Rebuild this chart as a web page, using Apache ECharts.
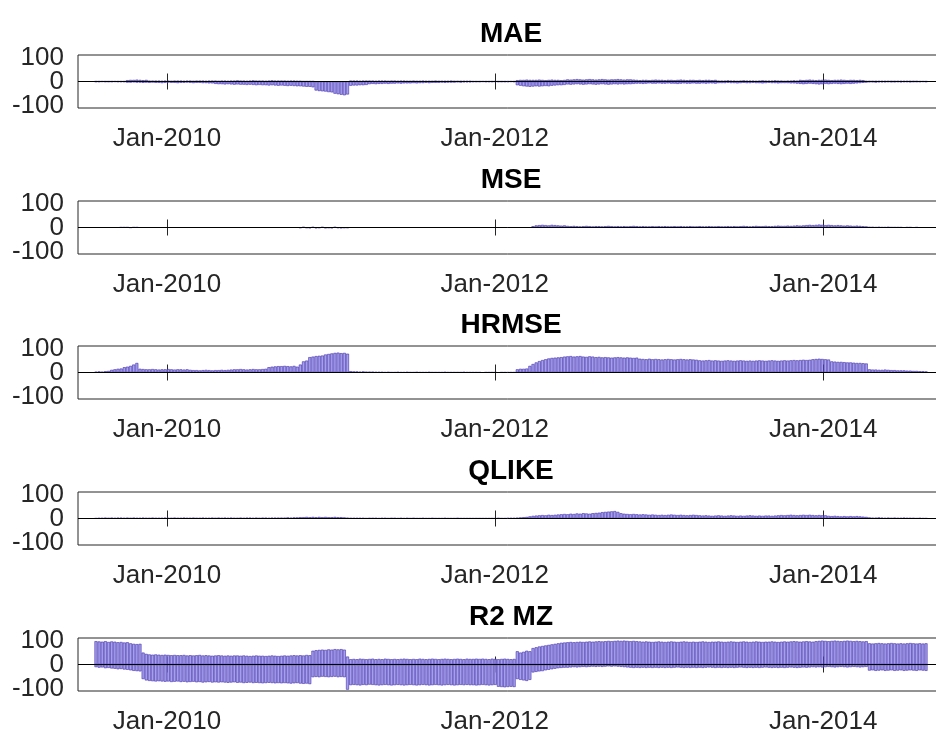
<!DOCTYPE html>
<html>
<head>
<meta charset="utf-8">
<script src="https://cdn.jsdelivr.net/npm/echarts@6/dist/echarts.min.js"></script>
<style>
html,body{margin:0;padding:0;background:#fff;}
#chart{width:936px;height:731px;}
</style>
</head>
<body>
<div id="chart"></div>
<script>
// weekly values, first week 2009-07-27
var weekStart = Date.UTC(2009, 6, 27);
var tickDates = [Date.UTC(2010, 0, 1), Date.UTC(2012, 0, 1), Date.UTC(2014, 0, 1)];
var titles = ['MAE', 'MSE', 'HRMSE', 'QLIKE', 'R2 MZ'];
var yEdgeTicks = [-100, 100];
var yMidTicks = [0];

var maeUp = [
1,1,1,1,1,1,1,1,1,1,5,6,6,7,6,5,6,3,3,3,
3,2,3,3,2,3,3,3,2,3,3,2,3,3,3,2,3,3,3,2,
3,3,2,3,3,4,3,3,2,3,4,3,3,3,2,3,4,3,3,3,
3,2,3,3,2,2,1,1,1,1,0,0,0,0,0,0,0,0,0,0,
0,3,3,3,2,3,3,3,3,2,3,3,3,2,3,3,2,3,3,2,
2,3,2,2,3,2,2,2,3,2,2,2,2,3,2,2,2,2,2,2,
1,1,1,1,1,1,1,1,1,1,1,1,1,1,5,6,6,7,6,6,
6,7,6,5,6,7,6,6,5,6,8,7,8,9,8,7,8,9,8,7,
8,9,8,7,8,8,9,8,7,8,8,7,6,5,6,6,5,6,7,6,
6,5,6,6,5,6,7,6,5,6,6,5,6,5,6,6,5,6,3,3,
3,4,3,3,2,3,4,3,3,3,2,3,4,3,3,3,4,3,3,2,
3,3,4,3,6,5,6,7,6,5,6,6,7,6,5,6,6,7,6,5,
6,6,5,6,5,2,2,2,2,2,2,2,2,2,2,2,2,2,2,2,
2,2,1,1,1
];
var maeDown = [
-2,-2,-1,-2,-2,-2,-1,-2,-2,-2,-4,-4,-3,-4,-4,-5,-4,-5,-4,-5,
-5,-6,-5,-4,-5,-5,-6,-5,-5,-4,-5,-6,-5,-5,-6,-6,-7,-7,-9,-10,
-10,-11,-10,-11,-12,-11,-12,-12,-13,-12,-13,-14,-13,-14,-14,-15,-14,-15,-16,-15,
-16,-17,-16,-17,-18,-18,-19,-20,-20,-22,-34,-36,-37,-38,-40,-41,-46,-48,-50,-52,
-49,-16,-15,-15,-14,-14,-13,-10,-9,-10,-9,-9,-8,-9,-8,-8,-7,-8,-7,-7,
-7,-6,-7,-6,-6,-5,-6,-5,-5,-5,-4,-5,-4,-4,-4,-3,-4,-3,-3,-3,
-2,-2,-2,-1,-2,-2,-2,-1,-2,-2,-2,-2,-1,-2,-14,-16,-18,-19,-20,-19,
-18,-19,-18,-17,-18,-16,-15,-14,-14,-13,-11,-12,-11,-10,-11,-12,-11,-10,-11,-12,
-11,-10,-11,-12,-11,-10,-11,-10,-11,-10,-10,-9,-8,-8,-9,-8,-7,-8,-8,-7,
-8,-8,-7,-8,-8,-9,-8,-7,-8,-8,-7,-8,-8,-7,-8,-7,-7,-8,-6,-6,
-6,-5,-6,-6,-7,-6,-5,-6,-6,-5,-6,-6,-7,-6,-5,-6,-6,-7,-6,-6,
-6,-7,-7,-8,-9,-10,-9,-8,-9,-10,-11,-10,-9,-10,-9,-8,-9,-10,-9,-8,
-9,-8,-7,-6,-5,-4,-3,-3,-4,-3,-3,-3,-2,-3,-3,-2,-3,-2,-2,-3,
-2,-2,-2,-1,-2
];
var mse = [
0,0,0,0,0,0,0,0,1,1,1,-1,1,1,0,0,0,0,0,0,
0,0,0,0,0,0,0,0,0,0,0,0,0,0,0,0,0,0,0,0,
0,0,0,0,0,0,0,0,0,0,0,0,0,0,0,0,0,0,0,0,
0,0,0,0,0,-2,2,-2,-3,2,-3,-2,2,-3,-2,-3,2,-2,-3,-2,
-2,0,0,0,0,0,0,0,0,0,0,0,0,0,0,0,0,0,0,0,
0,0,0,0,0,0,0,0,0,0,0,0,0,0,0,0,0,0,0,0,
0,0,0,0,0,0,0,0,0,0,0,0,0,0,0,0,0,0,0,5,
8,9,10,9,8,10,9,8,7,8,6,5,6,5,4,5,6,5,4,5,
5,4,5,6,5,4,5,4,5,4,5,6,5,4,5,4,4,5,4,5,
4,5,4,4,5,4,5,4,4,5,4,4,5,4,4,5,4,4,5,4,
4,5,4,5,4,5,6,5,4,5,6,5,5,6,5,5,6,7,6,6,
7,6,7,8,7,8,9,10,9,10,11,10,9,10,9,8,9,8,7,8,
7,6,7,6,5,4,2,2,1,2,1,1,2,1,1,1,1,0,1,1,
0,1,0,0,0
];
var hrmse = [
3,4,3,5,6,10,12,14,15,20,22,25,30,36,14,13,12,12,13,12,
11,12,12,13,12,11,12,12,11,12,10,9,9,8,9,10,9,8,9,9,
10,9,10,11,12,12,13,12,11,12,13,12,12,13,14,20,22,23,24,24,
25,24,23,25,22,30,42,45,58,60,62,63,64,68,70,72,74,75,73,74,
71,5,4,4,3,4,3,3,3,2,2,2,1,2,1,1,2,1,1,2,
1,1,2,1,1,1,2,1,1,1,1,2,1,1,1,1,1,2,1,1,
1,1,1,0,1,1,1,1,0,1,1,1,1,1,12,14,14,15,25,32,
38,43,47,50,53,55,56,57,58,60,61,62,60,61,62,60,59,61,60,58,
59,57,58,57,56,57,58,57,56,57,56,55,56,52,51,50,52,50,51,50,
49,50,51,50,49,50,51,50,49,50,49,48,46,45,46,47,45,46,45,44,
45,46,45,44,45,46,45,44,45,44,45,46,45,44,45,46,45,44,45,46,
45,46,47,46,47,48,47,48,50,51,52,51,50,49,42,41,40,40,39,38,
38,37,36,36,35,34,12,11,11,10,10,11,10,9,9,8,8,8,7,7,
6,6,5,5,4
];
var qlike = [
1,2,2,3,2,3,2,3,3,2,3,2,3,2,2,3,2,2,3,2,
2,2,3,2,2,3,2,2,3,2,2,3,2,2,3,2,2,3,2,3,
2,3,2,3,2,2,3,2,3,3,2,3,2,3,3,2,3,3,3,3,
3,4,3,4,4,5,5,6,5,6,5,6,5,6,5,5,6,5,5,4,
3,2,2,2,2,2,1,2,2,2,1,2,2,1,2,2,1,2,1,2,
1,2,1,1,2,1,1,2,1,1,1,2,1,1,1,2,1,1,1,1,
1,1,1,1,1,1,1,1,2,1,1,2,2,2,3,4,5,6,8,10,
11,12,13,12,14,13,14,15,16,17,16,18,17,19,18,20,19,18,20,21,
22,24,25,26,27,28,25,20,18,17,16,17,16,15,16,15,14,15,14,13,
14,13,14,15,14,13,14,13,12,13,14,13,12,11,12,11,10,11,12,11,
10,11,12,11,10,11,10,11,12,11,10,11,10,11,11,10,11,12,13,12,
13,14,13,12,13,14,13,14,13,12,13,12,12,10,9,10,9,8,9,8,
9,8,9,8,7,6,4,3,3,4,3,2,3,2,3,2,2,3,2,2,
2,1,2,1,1
];
var r2Upper = [
88,87,86,88,85,87,86,84,85,83,84,80,78,77,78,45,40,38,37,38,
37,36,37,36,35,36,35,35,36,34,35,34,35,36,34,35,34,33,34,35,
34,33,34,33,34,34,33,34,33,32,33,34,33,33,32,33,34,33,32,33,
34,33,34,35,34,35,34,36,35,52,54,55,56,55,57,56,58,57,58,56,
30,20,21,20,22,21,20,21,22,20,21,20,22,21,20,21,20,21,22,21,
20,21,20,22,21,20,21,22,21,20,21,22,21,20,21,22,21,20,22,21,
21,22,21,22,21,20,22,21,20,21,22,21,20,21,50,45,48,52,50,62,
65,68,70,72,74,76,78,80,82,83,84,85,84,85,86,85,86,87,86,87,
88,87,88,89,88,89,90,89,90,89,88,89,88,87,86,87,86,85,86,87,
86,85,86,87,86,85,86,87,86,85,86,85,86,87,86,85,86,86,87,86,
85,86,87,86,85,86,87,86,85,86,87,86,85,86,86,87,86,85,86,87,
86,87,88,87,86,87,88,87,86,88,89,90,89,88,89,90,89,88,89,90,
89,88,89,88,87,88,80,79,80,81,80,79,80,81,80,79,80,79,80,81,
80,79,80,79,80
];
var r2Lower = [
-10,-12,-11,-14,-13,-15,-16,-18,-17,-19,-20,-22,-24,-25,-26,-55,-60,-62,-63,-64,
-63,-64,-65,-64,-66,-65,-64,-66,-65,-67,-66,-65,-67,-66,-68,-67,-66,-68,-67,-68,
-67,-68,-69,-68,-67,-69,-68,-70,-69,-68,-70,-69,-70,-71,-70,-69,-70,-71,-70,-71,
-70,-71,-72,-71,-70,-72,-73,-72,-74,-48,-47,-48,-46,-47,-48,-47,-46,-48,-47,-48,
-95,-78,-77,-78,-79,-77,-78,-76,-77,-78,-79,-78,-77,-78,-79,-78,-77,-78,-79,-78,
-77,-78,-79,-78,-77,-78,-79,-78,-77,-78,-79,-78,-77,-78,-79,-78,-77,-78,-77,-78,
-78,-79,-78,-77,-78,-79,-78,-77,-84,-85,-86,-85,-84,-85,-55,-58,-60,-62,-58,-30,
-28,-26,-25,-22,-20,-18,-16,-14,-13,-12,-12,-11,-10,-11,-10,-9,-10,-9,-8,-9,
-8,-9,-8,-7,-8,-7,-8,-9,-10,-11,-12,-13,-12,-13,-12,-13,-12,-13,-12,-13,
-12,-13,-12,-13,-12,-11,-12,-13,-12,-13,-12,-13,-12,-13,-12,-11,-12,-13,-12,-13,
-12,-13,-12,-13,-12,-11,-12,-13,-12,-13,-12,-13,-12,-11,-12,-13,-12,-13,-12,-13,
-12,-11,-12,-13,-12,-11,-12,-11,-10,-11,-10,-11,-10,-9,-10,-11,-10,-9,-10,-11,
-10,-9,-10,-11,-10,-9,-23,-22,-24,-23,-22,-24,-23,-22,-24,-23,-22,-24,-23,-22,
-23,-24,-22,-23,-24
];

var panelSeries = [[maeUp, maeDown], [mse], [hrmse], [qlike], [r2Upper, r2Lower]];

var errchart = {
	init: function(){
		var chart = echarts.init(document.getElementById('chart'));
		var tops = [55, 201, 346, 492, 638];
		var txt = '#262626', font = 'Liberation Sans, Arial, Helvetica, sans-serif';
		var xMin = Date.UTC(2009, 5, 17), xMax = Date.UTC(2014, 8, 27);
		var grid = [], xAxis = [], yAxis = [], series = [];
		var fmt = function(v){ return 'Jan-' + new Date(v).getUTCFullYear(); };
		var weeks = [];
		for (var i = 0; i < hrmse.length; i++) weeks.push(weekStart + i * 7 * 86400000);

		for (var k = 0; k < 5; k++) {
			// box runs past the right edge of the picture, keep it that way
			grid.push({left: 78, top: tops[k], width: 866, height: 53, show: true,
				outerBoundsMode: 'none', containLabel: false,
				borderColor: txt, borderWidth: 1, backgroundColor: '#fff'});
			// bottom axis: labels + inward ticks
			xAxis.push({type: 'value', gridIndex: k, position: 'bottom', min: xMin, max: xMax,
				axisLine: {show: false}, splitLine: {show: false},
				axisTick: {inside: true, length: 8, customValues: tickDates, lineStyle: {color: txt}},
				axisLabel: {customValues: tickDates, formatter: fmt, color: txt, fontSize: 26,
					fontFamily: font, margin: 18}});
			// top axis: ticks + panel title
			xAxis.push({type: 'value', gridIndex: k, position: 'top', min: xMin, max: xMax,
				axisLine: {show: false}, splitLine: {show: false},
				axisTick: {inside: true, length: 8, customValues: tickDates, lineStyle: {color: txt}},
				axisLabel: {show: false},
				name: titles[k], nameLocation: 'middle', nameGap: 7,
				nameTextStyle: {fontSize: 28, fontWeight: 'bold', color: '#000', fontFamily: font}});
			// y labels split on two axes so the 26px labels are not dropped as overlapping
			yAxis.push({type: 'value', gridIndex: k, position: 'left', min: -100, max: 100, interval: 100,
				axisLine: {show: false}, axisTick: {show: false}, splitLine: {show: false},
				axisLabel: {customValues: yEdgeTicks, color: txt, fontSize: 26, fontFamily: font, margin: 14,
					formatter: function(v){ return v > 0 ? '{t|' + v + '}' : '{b|' + v + '}'; },
					rich: {t: {padding: [6, 0, 0, 0]}, b: {padding: [0, 0, 4, 0]}}}});
			yAxis.push({type: 'value', gridIndex: k, position: 'left', offset: 0, min: -100, max: 100, interval: 100,
				axisLine: {show: false}, axisTick: {show: false}, splitLine: {show: false},
				axisLabel: {customValues: yMidTicks, color: txt, fontSize: 26, fontFamily: font, margin: 14}});
			var list = panelSeries[k];
			for (var j = 0; j < list.length; j++) {
				var arr = list[j];
				var s = {
					type: 'bar', xAxisIndex: 2 * k, yAxisIndex: 2 * k, stack: 'p' + k,
					barWidth: 3, silent: true,
					itemStyle: {color: 'rgba(150,142,230,0.85)', borderColor: '#3f2fae', borderWidth: 0.6},
					data: weeks.map(function(d, i){ return [d, arr[i]]; })
				};
				if (j == 0) {//baseline at 0
					s.markLine = {silent: true, symbol: 'none', animation: false, label: {show: false},
						lineStyle: {color: '#000', width: 1, type: 'solid'}, data: [{yAxis: 0}]};
				}
				series.push(s);
			}
		}
		chart.setOption({animation: false, grid: grid, xAxis: xAxis, yAxis: yAxis, series: series});
	}
};
errchart.init();
</script>
</body>
</html>
